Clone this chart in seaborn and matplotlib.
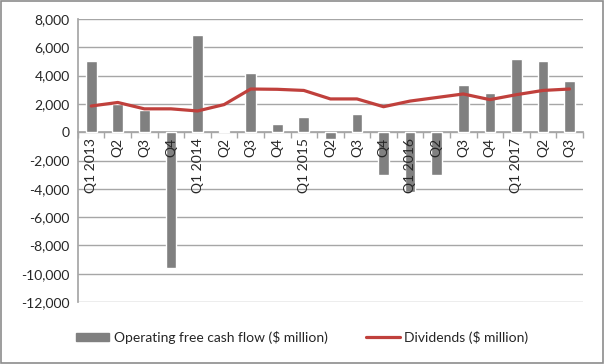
import matplotlib
matplotlib.use("Agg")
import matplotlib.pyplot as plt
import seaborn as sns
import pandas as pd
import numpy as np
from matplotlib.ticker import FuncFormatter, FixedLocator
from matplotlib.patches import Rectangle
from matplotlib.lines import Line2D
from matplotlib.patches import Patch

quarters = ["Q1 2013", "Q2", "Q3", "Q4", "Q1 2014", "Q2", "Q3", "Q4",
            "Q1 2015", "Q2", "Q3", "Q4", "Q1 2016", "Q2", "Q3", "Q4",
            "Q1 2017", "Q2", "Q3"]
fcf = [5000, 2000, 1600, -9600, 6850, 120, 4200, 570,
       1050, -450, 1300, -3000, -4250, -3000, 3300, 2800,
       5200, 5000, 3600]
dividends = [1850, 2100, 1650, 1650, 1500, 1950, 3050, 3030,
             2950, 2350, 2350, 1800, 2200, 2450, 2700, 2300,
             2650, 2950, 3050]

sns.set_theme(style="white")
plt.rcParams['font.family'] = ['Lato', 'DejaVu Sans']

df = pd.DataFrame({"pos": np.arange(len(quarters)), "fcf": fcf, "div": dividends})

fig = plt.figure(figsize=(6.04, 3.64), dpi=100)
ax = fig.add_axes([0.129, 0.170, 0.836, 0.778])

bar_color = "#808080"
line_color = "#c0403c"
grid_color = "#a6a6a6"

sns.barplot(data=df, x="pos", y="fcf", color=bar_color, width=0.4,
            saturation=1, ax=ax, zorder=3)
sns.lineplot(data=df, x="pos", y="div", color=line_color, linewidth=2.3,
             ax=ax, zorder=4)

ax.set_xlim(-0.5, len(quarters) - 0.5)
ax.set_ylim(-12000, 8000)
ax.set_yticks(np.arange(-12000, 8001, 2000))
ax.yaxis.set_major_formatter(FuncFormatter(lambda v, p: f"{int(v):,}"))
ax.grid(axis="y", color=grid_color, linewidth=1)
ax.set_axisbelow(True)

ax.spines['top'].set_visible(False)
ax.spines['right'].set_visible(False)
ax.spines['left'].set_color(grid_color)
ax.spines['bottom'].set_color(grid_color)
ax.spines['bottom'].set_position(('data', 0))
ax.spines['bottom'].set_zorder(2)

ax.set_xticks(np.arange(len(quarters)))
ax.set_xticklabels(quarters, rotation=90, fontsize=10, color="#262626")
ax.xaxis.set_minor_locator(FixedLocator(np.arange(-0.5, len(quarters), 1)))
ax.tick_params(axis="x", which="major", length=0, pad=4)
ax.tick_params(axis="x", which="minor", length=4, color=grid_color, direction="out", bottom=True)
ax.tick_params(axis="y", length=0, labelsize=10, labelcolor="#262626", pad=6)
ax.xaxis.set_zorder(6)
ax.set_xlabel("")
ax.set_ylabel("")

handles = [Patch(facecolor=bar_color, edgecolor=bar_color),
           Line2D([0], [0], color=line_color, linewidth=2.3)]
labels = ["Operating free cash flow ($ million)", "Dividends ($ million)"]
if ax.get_legend() is not None:
    ax.get_legend().remove()
fig.legend(handles, labels, loc="center", bbox_to_anchor=(0.5, 0.073), ncol=2,
           frameon=False, fontsize=10, handlelength=2.4, handleheight=0.5,
           columnspacing=2.8, handletextpad=0.3)

fig.patches.append(Rectangle((0.002, 0.003), 0.996, 0.994, transform=fig.transFigure,
                             fill=False, edgecolor="#8c8c8c", linewidth=1.2))

fig.savefig("out.png", dpi=100)
